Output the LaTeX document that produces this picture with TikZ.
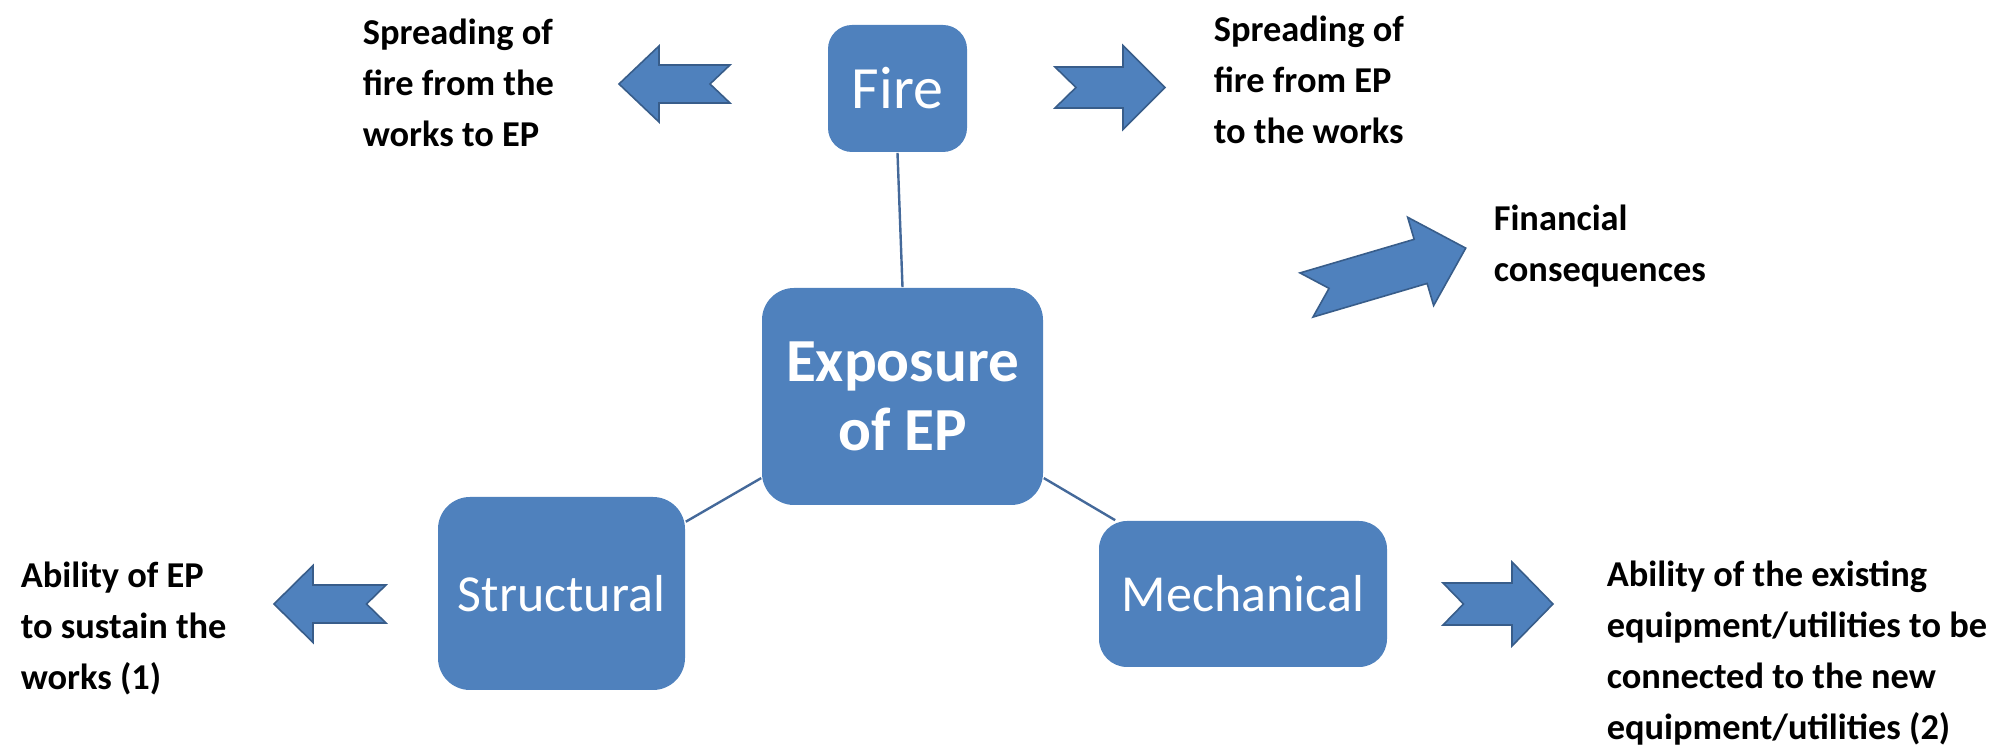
\documentclass[tikz,border=0pt]{standalone}
\usepackage{fontspec}
\setmainfont{Carlito}
\definecolor{boxblue}{HTML}{4F81BD}
\definecolor{edgeblue}{HTML}{385D8A}
\definecolor{lineblue}{HTML}{44699A}

% notched block arrow: tail centre, angle, length, head length, shaft half, head half
\newcommand{\blockarrow}[6]{%
  \filldraw[arrowbody, shift={#1}, rotate=#2]
    (0,-#5) -- (#3-#4,-#5) -- (#3-#4,-#6) -- (#3,0) -- (#3-#4,#6)
    -- (#3-#4,#5) -- (0,#5) -- (0.5*#4,0) -- cycle;}

\begin{document}
\begin{tikzpicture}[x=0.25pt, y=-0.25pt,
    topic/.style={fill=boxblue, rounded corners=8pt, inner sep=0pt, text=white, align=center},
    note/.style={anchor=north west, inner sep=0pt, align=left,
      font=\fontsize{9.1}{12.75}\selectfont\bfseries},
    link/.style={draw=lineblue, line width=0.6pt},
    arrowbody/.style={fill=boxblue, draw=edgeblue, line width=0.4pt, line join=miter}]
  \useasboundingbox (0,0) rectangle (1995,746);

  \node[topic, rounded corners=6pt, minimum width=34.75pt, minimum height=31.75pt,
    font=\fontsize{15}{18}\selectfont] (fire) at (897.5,88.5) {Fire};
  \node[topic, minimum width=70.25pt, minimum height=54.25pt,
    font=\fontsize{15.3}{17.25}\selectfont\bfseries] (expo) at (902.5,396.5) {Exposure\\of EP};
  \node[topic, minimum width=61.75pt, minimum height=48.25pt,
    font=\fontsize{13}{15}\selectfont] (struct) at (561.5,593.5) {Structural};
  \node[topic, rounded corners=7pt, minimum width=72pt, minimum height=36.5pt,
    font=\fontsize{13}{15}\selectfont] (mech) at (1243,594) {Mechanical};

  \draw[link] (fire.south) -- (expo.north);
  \draw[link] (expo.210) -- (struct.30);
  \draw[link] (expo.-30) -- (mech.150);

  \blockarrow{(730,84)}{180}{111}{40}{19}{38}
  \blockarrow{(1055,87.5)}{0}{110}{42}{20.5}{42}
  \blockarrow{(1306.5,295)}{16.4}{166}{47}{23}{46}
  \blockarrow{(386,604)}{180}{112}{39}{19}{38.5}
  \blockarrow{(1443,604)}{0}{110}{41}{21}{42}

  \node[note] (firein) at (362,18) {Spreading of\\fire from the\\works to EP};
  \node[note] (fireout) at (1213,15) {Spreading of\\fire from EP\\to the works};
  \node[note] (money) at (1493,204) {Financial\\consequences};
  \node[note] (sustain) at (20,561) {Ability of EP\\to sustain the\\works (1)};
  \node[note] (connect) at (1606,560) {Ability of the existing\\equipment/utilities to be\\connected to the new\\equipment/utilities (2)};
\end{tikzpicture}
\end{document}
